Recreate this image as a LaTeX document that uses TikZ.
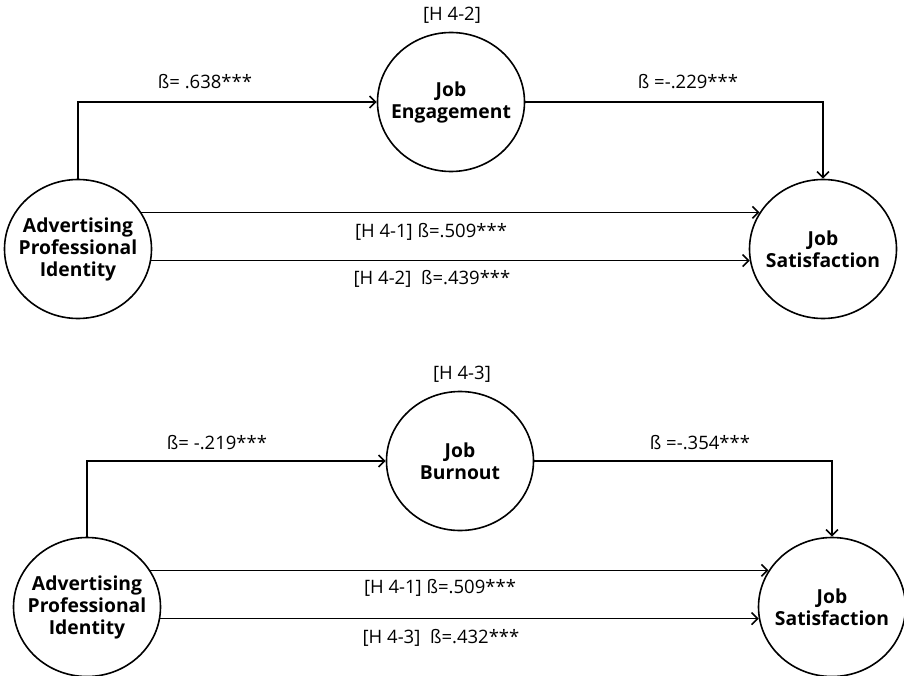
\documentclass[tikz,border=0pt]{standalone}
\usepackage{fontspec}
\setmainfont{Open Sans}
\usetikzlibrary{shapes.geometric,arrows.meta}
\tikzset{
  latent/.style={draw, ellipse, line width=1.6pt, minimum width=147pt,
    minimum height=139pt, inner xsep=-14pt, inner ysep=0pt, align=center,
    font=\fontsize{19.3}{22}\selectfont\bfseries},
  coef/.style={font=\fontsize{18.5}{21}\selectfont},
  path/.style={line width=1.6pt, -{Straight Barb[length=6pt,width=12pt]}}
}
\begin{document}
\begin{tikzpicture}[x=1pt,y=-1pt]
      \useasboundingbox (0,0) rectangle (904,676);
      % upper model
      \draw
        (78,249) node[latent] (api1){Advertising\\Professional\\Identity}
        (451,102) node[latent] (eng){Job\\Engagement}
        (823,249) node[latent] (js1){Job\\Satisfaction};
      \node[coef] (h42) at (452,15) {[H 4-2]};
      \node[coef] (b1) at (205,82) {ß= .638***};
      \node[coef] (b2) at (688,82) {ß =-.229***};
      \node[coef] (b3) at (431,232) {[H 4-1] ß=.509***};
      \node[coef] (b4) at (432,279) {[H 4-2]\ \ ß=.439***};
      \begin{scope}[path]
        \draw (api1.north) |- (eng.west);
        \draw (eng.east) -| (js1.north);
        \draw (api1.30) to (js1.150);
        \draw (api1.-9.4) to (js1.189.4);
      \end{scope}
      % lower model
      \draw
        (87,607) node[latent] (api2){Advertising\\Professional\\Identity}
        (460,461) node[latent] (burn){Job\\Burnout}
        (832,607) node[latent] (js2){Job\\Satisfaction};
      \node[coef] (h43) at (462,374) {[H 4-3]};
      \node[coef] (b5) at (217,443) {ß= -.219***};
      \node[coef] (b6) at (700,443) {ß =-.354***};
      \node[coef] (b7) at (440,588) {[H 4-1] ß=.509***};
      \node[coef] (b8) at (441,638) {[H 4-3]\ \ ß=.432***};
      \begin{scope}[path]
        \draw (api2.north) |- (burn.west);
        \draw (burn.east) -| (js2.north);
        \draw (api2.30) to (js2.150);
        \draw (api2.-9.4) to (js2.189.4);
      \end{scope}
    \end{tikzpicture}
\end{document}
